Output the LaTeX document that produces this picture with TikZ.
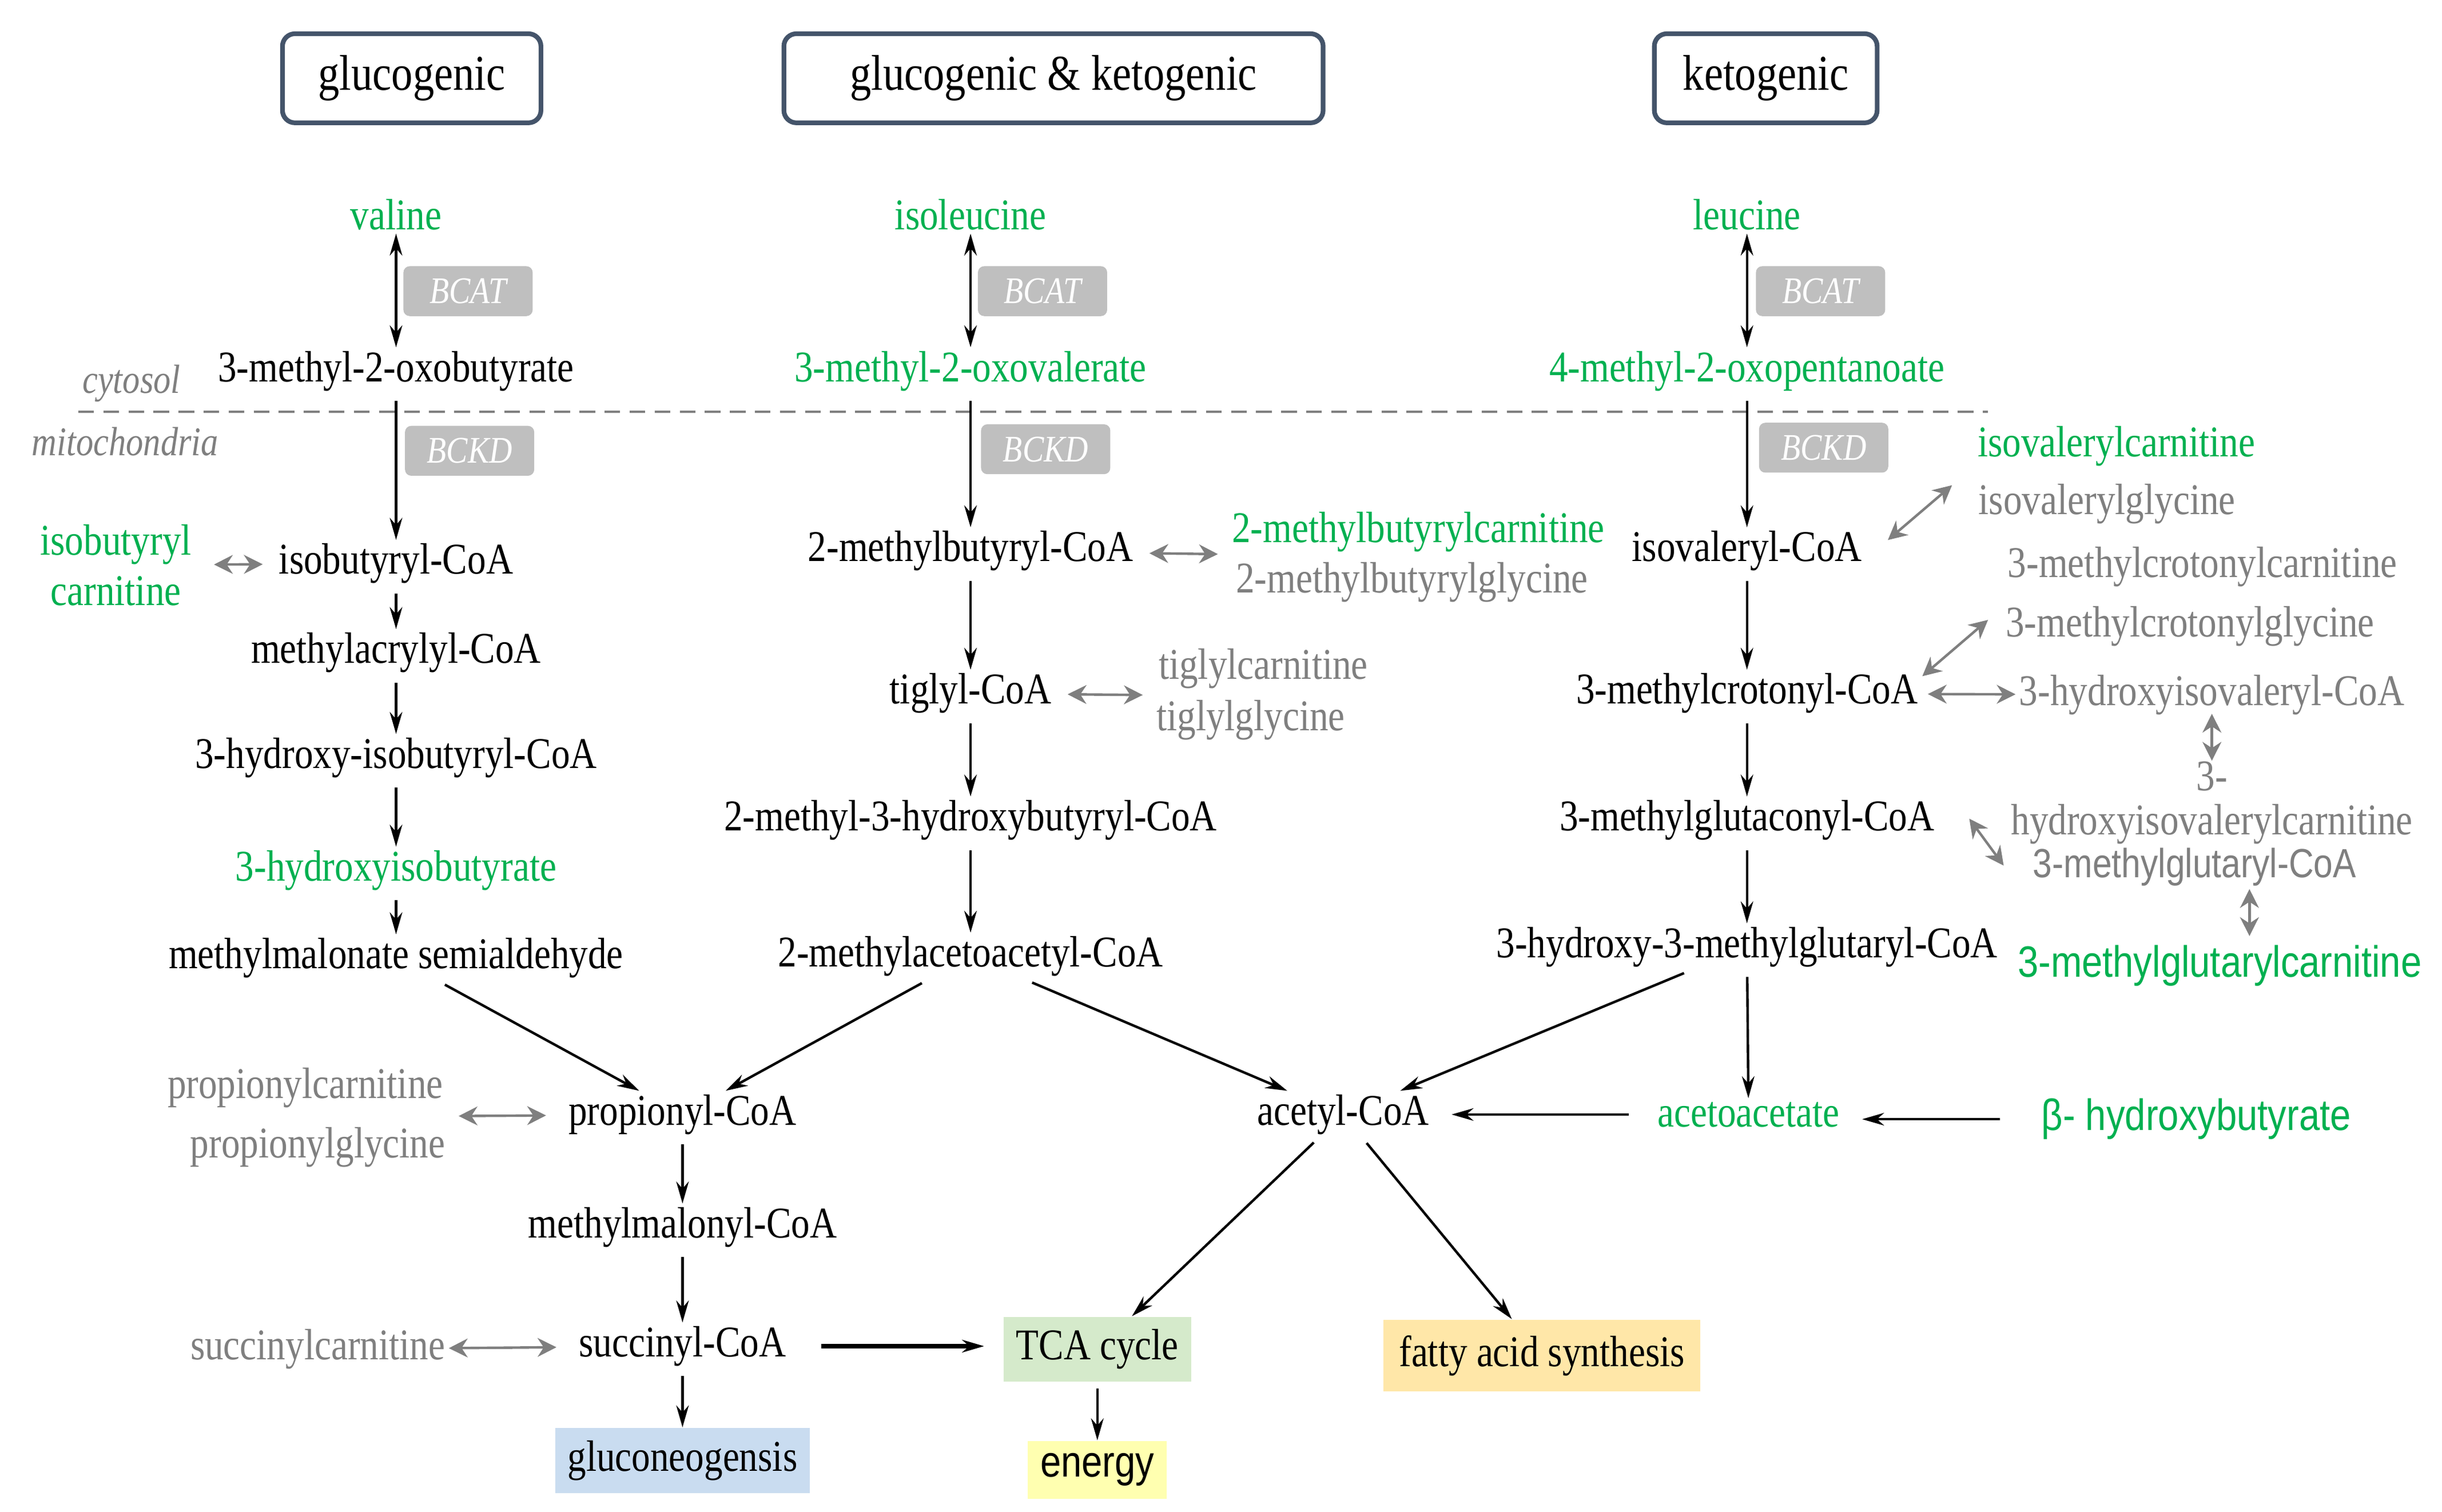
\documentclass[tikz,border=0pt]{standalone}
\usepackage{fontspec}
\setmainfont{Liberation Serif}[FakeStretch=0.85]
\newfontfamily\sansf{Liberation Sans}[FakeStretch=0.85]
\usetikzlibrary{positioning, arrows.meta}
\definecolor{metgreen}{HTML}{00B050}
\definecolor{metgray}{HTML}{7F7F7F}
\definecolor{hdrblue}{HTML}{44546A}
\definecolor{gngblue}{HTML}{C9DCF0}
\definecolor{tcagreen}{HTML}{D5EACB}
\definecolor{enyellow}{HTML}{FFFFB0}
\definecolor{fasorange}{HTML}{FFE7A8}

\begin{document}
\begin{tikzpicture}[x=0.01756cm, y=-0.01756cm,
    met/.style={font=\fontsize{14}{16}\selectfont, inner sep=1pt},
    gmet/.style={met, text=metgreen},
    side/.style={met, text=metgray},
    hdr/.style={draw=hdrblue, line width=1.5pt, rounded corners=4pt, minimum height=1cm,
      font=\fontsize{16}{18}\selectfont},
    enz/.style={fill=gray!50, rounded corners=2pt, text=white, minimum width=1.45cm,
      minimum height=0.56cm, font=\fontsize{12}{14}\itshape},
    conv/.style={-{Stealth[length=7pt, width=4pt]}, thick, shorten <=2pt},
    rev/.style={{Stealth[length=7pt, width=4pt]}-{Stealth[length=7pt, width=4pt]}, thick},
    link/.style={{Stealth[length=6pt, width=6pt]}-{Stealth[length=6pt, width=6pt]}, metgray, thick}
  ]
  \useasboundingbox (0,0) rectangle (1560,965.6);

  % -- headers --
  \node[hdr, minimum width=2.9cm] (hglu) at (263,50) {glucogenic};
  \node[hdr, minimum width=6.05cm] (hboth) at (673,50) {glucogenic \& ketogenic};
  \node[hdr, minimum width=2.5cm] (hket) at (1128,50) {ketogenic};

  % -- cytosol / mitochondria --
  \draw[metgray, thick, dash pattern=on 5pt off 3pt] (50,263) -- (1270,263);
  \node[side, font=\fontsize{13}{15}\itshape] (cyto) at (84,245) {cytosol};
  \node[side, font=\fontsize{13}{15}\itshape] (mito) at (80,282) {mitochondria};

  % -- valine --
  \node[gmet] (val) at (253,137) {valine};
  \node[enz] (bcat1) at (299,186) {BCAT};
  \node[met] (mob) at (253,237) {3-methyl-2-oxobutyrate};
  \node[enz] (bckd1) at (300,288) {BCKD};
  \node[met] (ibcoa) at (253,360) {isobutyryl-CoA};
  \node[gmet, align=center] (ibcar) at (74,361) {isobutyryl\\carnitine};
  \node[met] (macoa) at (253,417) {methylacrylyl-CoA};
  \node[met] (hibcoa) at (253,484) {3-hydroxy-isobutyryl-CoA};
  \node[gmet] (hib) at (253,556) {3-hydroxyisobutyrate};
  \node[met] (mmsa) at (253,612) {methylmalonate semialdehyde};
  \node[met] (prop) at (436,712) {propionyl-CoA};
  \node[side] (propcar) at (195,695) {propionylcarnitine};
  \node[side] (propgly) at (203,733) {propionylglycine};
  \node[met] (mmcoa) at (436,784) {methylmalonyl-CoA};
  \node[met] (succ) at (436,860) {succinyl-CoA};
  \node[side] (succar) at (203,862) {succinylcarnitine};
  \node[met, fill=gngblue, inner sep=4pt] (gng) at (436,933) {gluconeogensis};
  \node[met, fill=tcagreen, inner sep=4pt] (tca) at (701,862) {TCA cycle};
  \node[met, fill=enyellow, inner sep=4pt, font=\sansf\fontsize{14}{16}\selectfont] (energy) at (701,939) {energy};

  \draw[rev] (val) -- (mob);
  \draw[conv] (mob) -- (ibcoa);
  \foreach \a/\b in {ibcoa/macoa, macoa/hibcoa, hibcoa/hib, hib/mmsa, mmsa/prop,
      prop/mmcoa, mmcoa/succ, succ/gng, tca/energy}
    \draw[conv] (\a) -- (\b);
  \draw[conv, line width=1.4pt, shorten <=10pt, shorten >=6pt] (succ.east) -- (succ.east -| tca.west);
  \draw[link, shorten <=6pt, shorten >=4pt] (ibcar) -- (ibcoa);
  \coordinate (propl) at (293,713);
  \draw[link, shorten >=6pt] (propl) -- (prop);
  \draw[link, shorten >=6pt] (succar) -- (succ);

  % -- isoleucine --
  \node[gmet] (ile) at (620,137) {isoleucine};
  \node[enz] (bcat2) at (666,186) {BCAT};
  \node[gmet] (mov) at (620,237) {3-methyl-2-oxovalerate};
  \node[enz] (bckd2) at (668,287) {BCKD};
  \node[met] (mbcoa) at (620,352) {2-methylbutyryl-CoA};
  \node[gmet] (mbcar) at (906,340) {2-methylbutyrylcarnitine};
  \node[side] (mbgly) at (902,372) {2-methylbutyrylglycine};
  \node[met] (tigcoa) at (620,443) {tiglyl-CoA};
  \node[side] (tigcar) at (807,427) {tiglylcarnitine};
  \node[side] (tiggly) at (799,460) {tiglylglycine};
  \node[met] (mhbcoa) at (620,524) {2-methyl-3-hydroxybutyryl-CoA};
  \node[met] (maacoa) at (620,611) {2-methylacetoacetyl-CoA};
  \node[met] (acoa) at (858,712) {acetyl-CoA};
  \node[met, fill=fasorange, inner sep=5pt] (fas) at (985,866) {fatty acid synthesis};

  \draw[rev] (ile) -- (mov);
  \draw[conv] (mov) -- (mbcoa);
  \foreach \a/\b in {mbcoa/tigcoa, tigcoa/mhbcoa, mhbcoa/maacoa, maacoa/prop,
      maacoa/acoa, acoa/tca, acoa/fas}
    \draw[conv] (\a) -- (\b);
  \coordinate (mbl) at (778,354);
  \coordinate (tigl) at (730,444);
  \draw[link, shorten <=4pt] (mbcoa) -- (mbl);
  \draw[link, shorten <=4pt] (tigcoa) -- (tigl);

  % -- leucine --
  \node[gmet] (leu) at (1116,137) {leucine};
  \node[enz] (bcat3) at (1163,186) {BCAT};
  \node[gmet] (mop) at (1116,237) {4-methyl-2-oxopentanoate};
  \node[enz] (bckd3) at (1165,286) {BCKD};
  \node[met] (ivcoa) at (1116,352) {isovaleryl-CoA};
  \node[gmet] (ivcar) at (1352,285) {isovalerylcarnitine};
  \node[side] (ivgly) at (1346,322) {isovalerylglycine};
  \node[met] (mccoa) at (1116,443) {3-methylcrotonyl-CoA};
  \node[side] (mccar) at (1407,362) {3-methylcrotonylcarnitine};
  \node[side] (mcgly) at (1399,400) {3-methylcrotonylglycine};
  \node[side] (hivcoa) at (1413,444) {3-hydroxyisovaleryl-CoA};
  \node[side, align=center] (hivcar) at (1413,513) {3-\\[-2pt]hydroxyisovalerylcarnitine};
  \node[met] (mgccoa) at (1116,524) {3-methylglutaconyl-CoA};
  \node[side, font=\sansf\fontsize{13}{15}\selectfont] (mgcoa) at (1402,554) {3-methylglutaryl-CoA};
  \node[gmet, font=\sansf\fontsize{14}{16}\selectfont] (mgcar) at (1418,617) {3-methylglutarylcarnitine};
  \node[met] (hmgcoa) at (1116,605) {3-hydroxy-3-methylglutaryl-CoA};
  \node[gmet] (acac) at (1117,712) {acetoacetate};
  \node[gmet, font=\sansf\fontsize{14}{16}\selectfont] (bhb) at (1403,715) {β- hydroxybutyrate};

  \draw[rev] (leu) -- (mop);
  \draw[conv] (mop) -- (ivcoa);
  \foreach \a/\b in {ivcoa/mccoa, mccoa/mgccoa, mgccoa/hmgcoa, hmgcoa/acac,
      hmgcoa/acoa}
    \draw[conv] (\a) -- (\b);
  \draw[conv, shorten <=8pt, shorten >=6pt] (acac.west) -- (acac.west -| acoa.east);
  \draw[conv, shorten <=12pt, shorten >=6pt] (bhb.west) -- (bhb.west -| acac.east);
  \coordinate (iva) at (1206,345);
  \coordinate (ivb) at (1247,310);
  \coordinate (mca) at (1228,432);
  \coordinate (mcb) at (1270,396);
  \coordinate (mga) at (1258,523);
  \coordinate (mgb) at (1280,553);
  \coordinate (hva) at (1413,456);
  \coordinate (hvb) at (1413,486);
  \coordinate (mgca) at (1437,568);
  \coordinate (mgcb) at (1437,598);
  \draw[link] (iva) -- (ivb);
  \draw[link] (mca) -- (mcb);
  \draw[link, shorten <=2pt] (mccoa) -- (hivcoa);
  \draw[link] (mga) -- (mgb);
  \draw[link] (hva) -- (hvb);
  \draw[link] (mgca) -- (mgcb);
\end{tikzpicture}
\end{document}
